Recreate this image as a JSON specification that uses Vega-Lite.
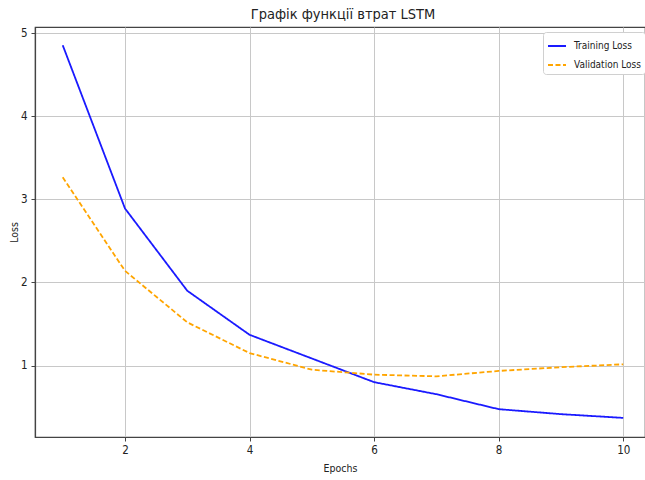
{
  "$schema": "https://vega.github.io/schema/vega-lite/v6.json",
  "autosize": "none",
  "width": 610,
  "height": 410,
  "padding": {"left": 35, "top": 27, "right": 0, "bottom": 43},
  "background": "white",
  "config": {
    "font": "DejaVu Sans Condensed",
    "view": {"stroke": "#444444", "strokeWidth": 1.2},
    "axis": {
      "labelFont": "DejaVu Sans Condensed",
      "titleFont": "DejaVu Sans Condensed",
      "labelFontSize": 11.5,
      "titleFontSize": 10.5,
      "titleFontWeight": "normal",
      "labelColor": "#222222",
      "titleColor": "#222222",
      "domainColor": "#444444",
      "domainWidth": 1.2,
      "tickColor": "#444444",
      "tickSize": 4,
      "gridColor": "#c8c8c8",
      "gridWidth": 1
    }
  },
  "title": {
    "text": "Графік функції втрат LSTM",
    "font": "DejaVu Sans Condensed",
    "fontSize": 14.5,
    "fontWeight": "normal",
    "color": "#222222",
    "offset": 5,
    "dx": 3
  },
  "data": {
    "values": [
      {"epoch": 1, "loss": 4.855, "series": "Training Loss"},
      {"epoch": 2, "loss": 2.89, "series": "Training Loss"},
      {"epoch": 3, "loss": 1.9, "series": "Training Loss"},
      {"epoch": 4, "loss": 1.37, "series": "Training Loss"},
      {"epoch": 5, "loss": 1.085, "series": "Training Loss"},
      {"epoch": 6, "loss": 0.8, "series": "Training Loss"},
      {"epoch": 7, "loss": 0.655, "series": "Training Loss"},
      {"epoch": 8, "loss": 0.475, "series": "Training Loss"},
      {"epoch": 9, "loss": 0.415, "series": "Training Loss"},
      {"epoch": 10, "loss": 0.37, "series": "Training Loss"},
      {"epoch": 1, "loss": 3.265, "series": "Validation Loss"},
      {"epoch": 2, "loss": 2.14, "series": "Validation Loss"},
      {"epoch": 3, "loss": 1.52, "series": "Validation Loss"},
      {"epoch": 4, "loss": 1.15, "series": "Validation Loss"},
      {"epoch": 5, "loss": 0.95, "series": "Validation Loss"},
      {"epoch": 6, "loss": 0.89, "series": "Validation Loss"},
      {"epoch": 7, "loss": 0.87, "series": "Validation Loss"},
      {"epoch": 8, "loss": 0.935, "series": "Validation Loss"},
      {"epoch": 9, "loss": 0.98, "series": "Validation Loss"},
      {"epoch": 10, "loss": 1.015, "series": "Validation Loss"}
    ]
  },
  "mark": {"type": "line", "strokeWidth": 1.8, "clip": true},
  "encoding": {
    "x": {
      "field": "epoch",
      "type": "quantitative",
      "scale": {"domain": [0.555, 10.35], "nice": false, "zero": false},
      "axis": {"values": [2, 4, 6, 8, 10], "title": "Epochs", "titlePadding": 8, "labelPadding": 3, "grid": true}
    },
    "y": {
      "field": "loss",
      "type": "quantitative",
      "scale": {"domain": [0.14, 5.074], "nice": false, "zero": false},
      "axis": {"values": [1, 2, 3, 4, 5], "title": "Loss", "titlePadding": 1, "labelPadding": 4, "grid": true}
    },
    "color": {
      "field": "series",
      "type": "nominal",
      "scale": {"domain": ["Training Loss", "Validation Loss"], "range": ["#1a1aff", "#ffa500"]},
      "legend": {
        "title": null,
        "orient": "none",
        "legendX": 508,
        "legendY": 5,
        "symbolType": "stroke",
        "symbolSize": 324,
        "symbolStrokeWidth": 2,
        "labelFont": "DejaVu Sans Condensed",
        "labelFontSize": 10,
        "labelColor": "#222222",
        "fillColor": "white",
        "strokeColor": "#d0d0d0",
        "cornerRadius": 3,
        "padding": 4,
        "rowPadding": 4,
        "labelOffset": 7
      }
    },
    "strokeDash": {
      "field": "series",
      "type": "nominal",
      "scale": {"domain": ["Training Loss", "Validation Loss"], "range": [[1, 0], [5, 2.5]]},
      "legend": null
    }
  }
}
